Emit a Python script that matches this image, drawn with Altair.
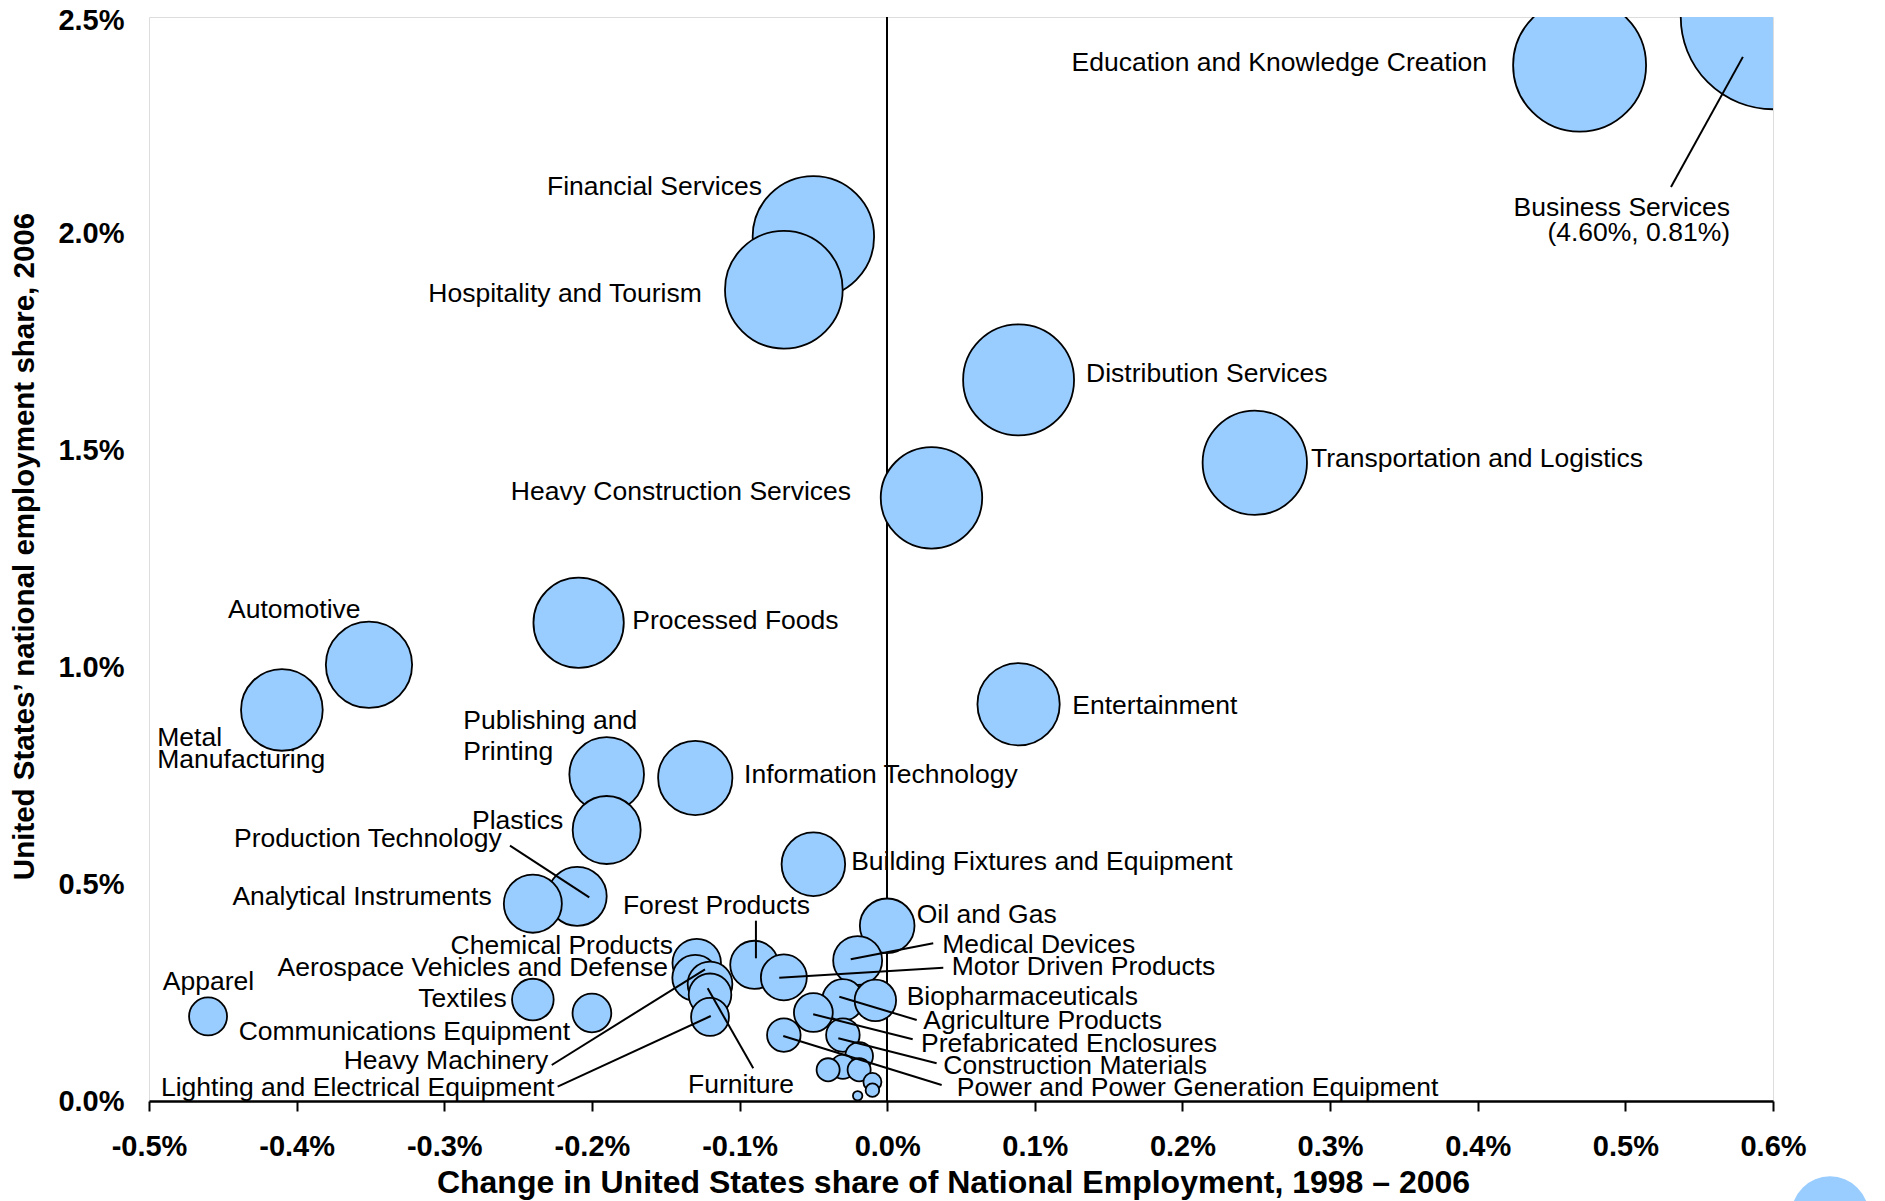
import altair as alt
import pandas as pd

FONT = "Liberation Sans, Arial, Helvetica, sans-serif"

# ---------------- data (percent units) ----------------
clusters = [
    "Education and Knowledge Creation", "Business Services", "Financial Services",
    "Hospitality and Tourism", "Distribution Services", "Transportation and Logistics",
    "Heavy Construction Services", "Processed Foods", "Automotive", "Metal Manufacturing",
    "Entertainment", "Publishing and Printing", "Information Technology", "Plastics",
    "Building Fixtures and Equipment", "Production Technology", "Analytical Instruments",
    "Oil and Gas", "Medical Devices", "Chemical Products", "Forest Products",
    "Motor Driven Products", "Aerospace Vehicles and Defense", "Heavy Machinery",
    "Furniture", "Textiles", "Agriculture Products", "Biopharmaceuticals",
    "Communications Equipment", "Prefabricated Enclosures", "Apparel",
    "Lighting and Electrical Equipment", "Construction Materials",
    "Power and Power Generation Equipment", "Aerospace Engines",
    "Sporting, Recreational and Children's Goods", "Footwear",
    "Jewelry and Precious Metals", "Leather and Related Products", "Tobacco",
    "Fishing and Fishing Products",
]
# change in share of national employment, 1998-2006 (x)
change = [
    0.469, 0.81, -0.050, -0.070, 0.089, 0.249, 0.030, -0.209, -0.351, -0.410,
    0.089, -0.190, -0.130, -0.190, -0.050, -0.210, -0.240, 0.000, -0.020, -0.129,
    -0.090, -0.070, -0.130, -0.120, -0.120, -0.240, -0.030, -0.008, -0.200, -0.050,
    -0.460, -0.120, -0.030, -0.070, -0.019, -0.030, -0.040, -0.019, -0.010, -0.010,
    -0.020,
]
# national employment share, 2006 (y, also bubble size)
share = [
    2.389, 4.60, 1.993, 1.871, 1.663, 1.472, 1.391, 1.103, 1.006, 0.902,
    0.915, 0.753, 0.745, 0.625, 0.546, 0.472, 0.455, 0.404, 0.324, 0.318,
    0.314, 0.285, 0.284, 0.270, 0.245, 0.234, 0.233, 0.232, 0.203, 0.204,
    0.195, 0.194, 0.152, 0.152, 0.104, 0.079, 0.072, 0.072, 0.044, 0.025,
    0.012,
]

x_ticks = [-0.5, -0.4, -0.3, -0.2, -0.1, 0.0, 0.1, 0.2, 0.3, 0.4, 0.5, 0.6]
y_ticks = [0.0, 0.5, 1.0, 1.5, 2.0, 2.5]
legend_values = [0.81]

x_title = "Change in United States share of National Employment, 1998 \u2013 2006"
y_title = "United States\u2019 national employment share, 2006"

# ---------------- annotations (data units) ----------------
label_text = [
    "Education and Knowledge Creation", "Business Services", "(4.60%, 0.81%)",
    "Financial Services", "Hospitality and Tourism", "Heavy Construction Services",
    "Distribution Services", "Transportation and Logistics", "Processed Foods",
    "Automotive", "Metal", "Manufacturing", "Entertainment", "Publishing and",
    "Printing", "Information Technology", "Plastics", "Production Technology",
    "Analytical Instruments", "Building Fixtures and Equipment", "Forest Products",
    "Oil and Gas", "Medical Devices", "Motor Driven Products", "Chemical Products",
    "Aerospace Vehicles and Defense", "Apparel", "Textiles", "Communications Equipment",
    "Heavy Machinery", "Lighting and Electrical Equipment", "Furniture",
    "Biopharmaceuticals", "Agriculture Products", "Prefabricated Enclosures",
    "Construction Materials", "Power and Power Generation Equipment",
]
label_x = [
    0.4063, 0.5709, 0.5709, -0.0848, -0.1256, -0.0245, 0.1347, 0.2871, -0.1726,
    -0.4465, -0.4944, -0.4944, 0.1254, -0.2871, -0.2871, -0.0969, -0.2194, -0.2611,
    -0.2679, -0.0244, -0.0523, 0.0200, 0.0373, 0.0437, -0.1451, -0.1485, -0.4597,
    -0.2577, -0.2148, -0.2295, -0.2255, -0.0990, 0.0132, 0.0245, 0.0229, 0.0380,
    0.0471,
]
label_y = [
    2.394, 2.0595, 2.0018, 2.108, 1.861, 1.4045, 1.6767, 1.4806, 1.1059,
    1.1324, 0.8383, 0.7864, 0.9117, 0.8775, 0.8049, 0.7509, 0.6458, 0.6031,
    0.4705, 0.5512, 0.4497, 0.4290, 0.3591, 0.3079, 0.3575, 0.3067, 0.2744,
    0.2352, 0.1591, 0.0923, 0.0300, 0.0376, 0.2387, 0.1845, 0.1315, 0.0807,
    0.0300,
]
label_align = [
    "right", "right", "right", "right", "right", "right", "left", "left", "left",
    "left", "left", "left", "left", "left", "left", "left", "right", "right",
    "right", "left", "right", "left", "left", "left", "right", "right", "center",
    "right", "right", "right", "right", "center", "left", "left", "left", "left",
    "left",
]

leader_x1 = [0.5309, -0.2555, -0.0889, 0.0312, 0.0380, -0.2272, -0.2232, -0.0907,
             0.0200, 0.0173, 0.0335, 0.0369]
leader_y1 = [2.108, 0.5888, 0.4158, 0.3637, 0.3074, 0.0830, 0.0330, 0.0754,
             0.1868, 0.1423, 0.0869, 0.0369]
leader_x2 = [0.5796, -0.2018, -0.0889, -0.0247, -0.0731, -0.1234, -0.1195, -0.1216,
             -0.0324, -0.0501, -0.0331, -0.0704]
leader_y2 = [2.408, 0.4698, 0.3291, 0.3268, 0.2844, 0.3037, 0.1960, 0.2599,
             0.2405, 0.2000, 0.1446, 0.1499]

# ---------------- frames ----------------
bubbles = pd.DataFrame({"cluster": clusters, "change": change, "share": share})
labels = pd.DataFrame({"text": label_text, "lx": label_x, "ly": label_y, "align": label_align})
leaders = pd.DataFrame({"lx": leader_x1, "ly": leader_y1, "lx2": leader_x2, "ly2": leader_y2})

xscale = alt.Scale(domain=[-0.5, 0.6], nice=False, zero=False, clamp=True)
yscale = alt.Scale(domain=[0, 2.5], nice=False, zero=False, clamp=True)

xaxis = alt.Axis(
    values=x_ticks,
    labelExpr="(datum.value < -0.0001 ? '-' : '') + format(abs(datum.value), '.1f') + '%'",
    title=x_title, titleFont=FONT, titleFontSize=32, titleFontWeight="bold",
    titleColor="black", titleX=804, titleY=66, titleBaseline="top", titleAlign="center",
    labelFont=FONT, labelFontSize=29, labelFontWeight="bold", labelColor="black",
    labelPadding=21, labelFlush=False, labelOverlap=False,
    domainColor="black", domainWidth=2.5, tickColor="black", tickWidth=2, tickSize=10,
    grid=False,
)
yaxis = alt.Axis(
    values=y_ticks, labelExpr="format(datum.value, '.1f') + '%'",
    title=y_title, titleFont=FONT, titleFontSize=29.5, titleFontWeight="bold",
    titleColor="black", titleX=-110, titleY=529, titleAngle=270,
    titleBaseline="bottom", titleAlign="center",
    labelFont=FONT, labelFontSize=29, labelFontWeight="bold", labelColor="black",
    labelPadding=25, ticks=False, tickSize=0, domain=False, grid=False,
    labelOverlap=False,
    labelOffset={"condition": {"test": "datum.value >= 2.49", "value": 3}, "value": 0},
)

zero_line = alt.Chart(bubbles).mark_rule(color="black", strokeWidth=1.5).encode(
    x=alt.datum(0.0)
)

bubble_layer = alt.Chart(bubbles).mark_circle(
    clip=True, fill="#99CCFF", stroke="black", strokeWidth=1.8, opacity=1, fillOpacity=1
).encode(
    x=alt.X("change:Q", scale=xscale, axis=xaxis),
    y=alt.Y("share:Q", scale=yscale, axis=yaxis),
    size=alt.Size(
        "share:Q",
        scale=alt.Scale(type="linear", domain=[0, 1], range=[0, 7400], zero=True),
        legend=alt.Legend(
            orient="none", legendX=1641, legendY=1158, values=legend_values,
            title=None, labelExpr="''", padding=0, symbolFillColor="#99CCFF",
            symbolStrokeColor="black", symbolStrokeWidth=1.8, symbolOpacity=1,
            symbolType="circle",
        ),
    ),
    order=alt.Order("share:Q", sort="descending"),
)

leader_layer = alt.Chart(leaders).mark_rule(color="black", strokeWidth=2).encode(
    x=alt.X("lx:Q", scale=xscale, axis=xaxis),
    y=alt.Y("ly:Q", scale=yscale, axis=yaxis),
    x2="lx2:Q",
    y2="ly2:Q",
)

def text_layer(align):
    df = labels[labels["align"] == align]
    return alt.Chart(df).mark_text(
        align=align, baseline="middle", font=FONT, fontSize=26.5, color="black"
    ).encode(
        x=alt.X("lx:Q", scale=xscale, axis=xaxis),
        y=alt.Y("ly:Q", scale=yscale, axis=yaxis),
        text="text:N",
    )

chart = alt.layer(
    zero_line, bubble_layer, leader_layer,
    text_layer("left"), text_layer("right"), text_layer("center"),
).properties(
    width=1624, height=1084,
    autosize=alt.AutoSizeParams(type="none"),
    padding={"left": 141, "top": 9, "right": 95, "bottom": 100},
).configure_view(stroke="black", strokeWidth=1.5).configure(font=FONT)

chart.save("out.html", embed_options={"renderer": "svg", "actions": False})
